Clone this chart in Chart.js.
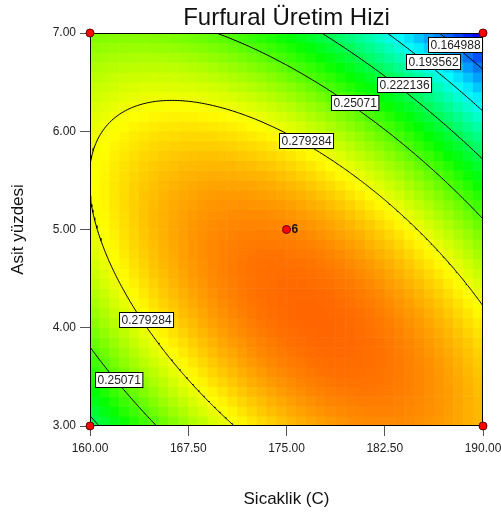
<!DOCTYPE html>
<html>
<head>
<meta charset="utf-8">
<script src="https://cdn.jsdelivr.net/npm/chart.js@4"></script>
<style>
  body { margin: 0; background: #fff; }
</style>
</head>
<body>
<canvas id="chart" width="501" height="515"></canvas>
<script>
// fitted quadratic model, coded units: b0, A (temp), B (acid), AB, A^2, B^2
const modelCoef = [0.303, -0.011, -0.029, -0.049, -0.037, -0.040];
const tempRange = [160, 190];
const acidRange = [3, 7];
const xTickValues = [160, 167.5, 175, 182.5, 190];
const xTickLabels = ['160.00', '167.50', '175.00', '182.50', '190.00'];
const yTickValues = [3, 4, 5, 6, 7];
const yTickLabels = ['3.00', '4.00', '5.00', '6.00', '7.00'];
const contourLevels = [0.164988, 0.193562, 0.222136, 0.25071, 0.279284];
// level labels, placed at (temp, acid)
const labelText = ['0.164988', '0.193562', '0.222136', '0.25071', '0.279284', '0.279284', '0.25071'];
const labelTemp = [187.9, 186.2, 184.0, 180.2, 176.5, 164.3, 162.2];
const labelAcid = [6.88, 6.705, 6.476, 6.293, 5.906, 4.089, 3.473];
// design points
const designTemp = [160, 160, 190, 190, 175];
const designAcid = [3, 7, 3, 7, 5];
const designLabels = ['', '', '', '', '6'];
const gridSize = 40;

const FONT = '"Liberation Sans", Arial, sans-serif';
Chart.defaults.font.family = FONT;

const [b0, b1, b2, b12, b11, b22] = modelCoef;
const tMid = (tempRange[0] + tempRange[1]) / 2, tHalf = (tempRange[1] - tempRange[0]) / 2;
const aMid = (acidRange[0] + acidRange[1]) / 2, aHalf = (acidRange[1] - acidRange[0]) / 2;

function response(X, Y) {
  return b0 + b1 * X + b2 * Y + b12 * X * Y + b11 * X * X + b22 * Y * Y;
}
function heatColor(v) {
  let h = 240 - (v - 0.145) * 1320;
  h = Math.max(0, Math.min(240, h));
  return 'hsl(' + h.toFixed(1) + ',100%,50%)';
}

// heat map cells
const heatData = [], heatColors = [];
for (let j = 0; j < gridSize; j++) {
  for (let i = 0; i < gridSize; i++) {
    const X = -1 + (i + 0.5) * 2 / gridSize;
    const Y = -1 + (j + 0.5) * 2 / gridSize;
    heatData.push({ x: tMid + tHalf * X, y: aMid + aHalf * Y });
    heatColors.push(heatColor(response(X, Y)));
  }
}

// contour lines: ellipses around the stationary point
const det = 4 * b11 * b22 - b12 * b12;
const Xc = (-2 * b22 * b1 + b12 * b2) / det;
const Yc = (-2 * b11 * b2 + b12 * b1) / det;
const fMax = response(Xc, Yc);
const contourData = [];
contourLevels.forEach(c => {
  const n = 720;
  for (let k = 0; k <= n; k++) {
    const th = 2 * Math.PI * k / n;
    const dx = Math.cos(th), dy = Math.sin(th);
    const q = b11 * dx * dx + b12 * dx * dy + b22 * dy * dy;
    const r = Math.sqrt((c - fMax) / q);
    contourData.push({ x: tMid + tHalf * (Xc + r * dx), y: aMid + aHalf * (Yc + r * dy) });
  }
  contourData.push({ x: NaN, y: NaN });
});

const designData = designTemp.map((t, i) => ({ x: t, y: designAcid[i] }));

const overlay = {
  id: 'overlay',
  afterDatasetDraw(chart, args) {
    if (args.index !== 1) return;
    const { ctx, chartArea: a, scales: { x, y } } = chart;
    ctx.save();
    // level labels
    ctx.font = '12px ' + FONT;
    ctx.textAlign = 'center';
    ctx.textBaseline = 'middle';
    labelText.forEach((txt, i) => {
      const px = x.getPixelForValue(labelTemp[i]);
      const py = y.getPixelForValue(labelAcid[i]);
      const w = ctx.measureText(txt).width + 4;
      const bx = Math.round(px - w / 2) + 0.5, by = Math.round(py - 7.5) + 0.5;
      ctx.fillStyle = '#fff';
      ctx.fillRect(bx, by, w, 15);
      ctx.strokeStyle = '#000';
      ctx.lineWidth = 1;
      ctx.strokeRect(bx, by, w, 15);
      ctx.fillStyle = '#222';
      ctx.fillText(txt, bx + w / 2, by + 8);
    });
    // frame
    ctx.strokeStyle = '#000';
    ctx.lineWidth = 1;
    ctx.strokeRect(a.left + 0.5, a.top + 0.5, a.width - 1, a.height - 1);
    ctx.restore();
  },
  afterDatasetsDraw(chart) {
    const { ctx, chartArea: a, scales: { x, y } } = chart;
    ctx.save();
    ctx.fillStyle = '#111';
    ctx.font = 'bold 12px ' + FONT;
    ctx.textAlign = 'left';
    ctx.textBaseline = 'middle';
    designLabels.forEach((txt, i) => {
      if (!txt) return;
      ctx.fillText(txt, x.getPixelForValue(designTemp[i]) + 5, y.getPixelForValue(designAcid[i]));
    });
    ctx.font = '24px ' + FONT;
    ctx.textAlign = 'center';
    ctx.textBaseline = 'alphabetic';
    ctx.fillText('Furfural Üretim Hizi', (a.left + a.right) / 2, 25);
    ctx.restore();
  }
};

new Chart(document.getElementById('chart'), {
  type: 'scatter',
  data: {
    datasets: [
      {
        label: 'design', data: designData, order: 1, clip: false,
        pointRadius: 4, pointBackgroundColor: '#ff0000',
        pointBorderColor: '#600000', pointBorderWidth: 1
      },
      {
        label: 'contours', data: contourData, order: 2, showLine: true,
        pointRadius: 0, borderColor: '#000', borderWidth: 1, spanGaps: false
      },
      {
        label: 'heat', data: heatData, order: 3, pointStyle: 'rect',
        pointBackgroundColor: heatColors, pointBorderWidth: 0,
        pointRadius: ctx => {
          const a = ctx.chart.chartArea;
          return a ? (a.width / gridSize) / Math.SQRT2 + 0.4 : 7;
        }
      }
    ]
  },
  options: {
    responsive: false,
    animation: false,
    devicePixelRatio: 1,
    events: [],
    layout: { padding: { top: 33, right: 18, left: 0, bottom: 0 } },
    plugins: { legend: { display: false }, tooltip: { enabled: false }, title: { display: false } },
    scales: {
      x: {
        type: 'linear', min: tempRange[0], max: tempRange[1],
        afterBuildTicks: s => { s.ticks = xTickValues.map(v => ({ value: v })); },
        afterFit: s => { s.height = 89; s.paddingLeft = 0; s.paddingRight = 0; },
        ticks: {
          callback: (v, i) => xTickLabels[i], font: { size: 12 }, color: '#222',
          padding: 5, maxRotation: 0, autoSkip: false
        },
        grid: { drawOnChartArea: false, drawTicks: true, tickLength: 10, color: '#555' },
        border: { display: false },
        title: { display: true, text: 'Sicaklik (C)', font: { size: 17 }, color: '#111', padding: { top: 0, bottom: 5 } }
      },
      y: {
        type: 'linear', min: acidRange[0], max: acidRange[1],
        afterBuildTicks: s => { s.ticks = yTickValues.map(v => ({ value: v })); },
        afterFit: s => { s.width = 90; s.paddingTop = 0; s.paddingBottom = 0; },
        ticks: {
          callback: (v, i) => yTickLabels[i], font: { size: 12 }, color: '#222',
          padding: 4, autoSkip: false
        },
        grid: { drawOnChartArea: false, drawTicks: true, tickLength: 10, color: '#555' },
        border: { display: false },
        title: { display: true, text: 'Asit yüzdesi', font: { size: 17 }, color: '#111', padding: { top: 8, bottom: 0 } }
      }
    }
  },
  plugins: [overlay]
});
</script>
</body>
</html>
